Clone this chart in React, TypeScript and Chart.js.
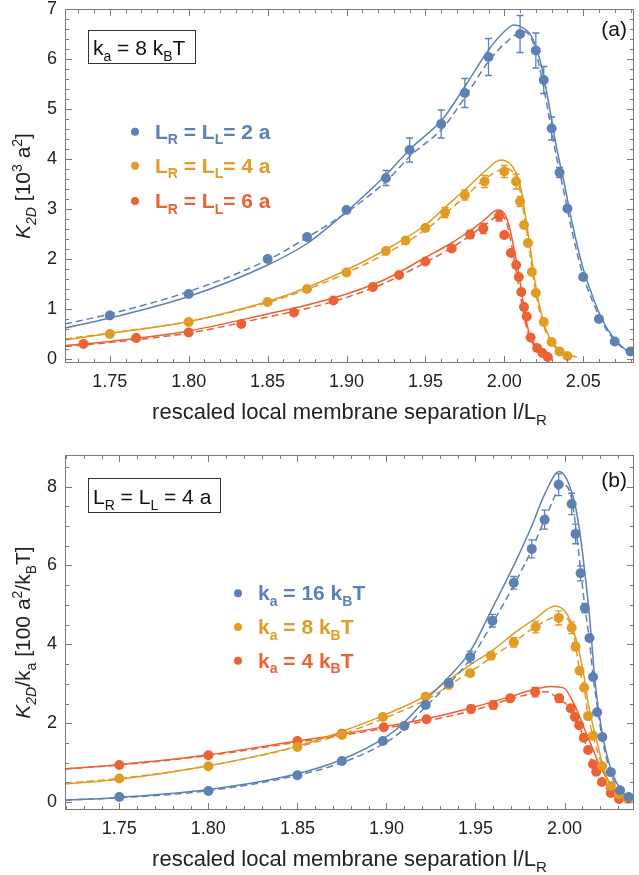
import React, { useEffect, useRef } from 'react';
import { Chart, registerables } from 'chart.js';
Chart.register(...registerables);

const BLUE = '#5E81B5';
const ORANGE = '#E19C24';
const RED = '#EB6235';

// ---------------- Panel (a): k_a = 8 kBT ----------------
const aXTicks = [1.75, 1.8, 1.85, 1.9, 1.95, 2.0, 2.05];
const aYTicks = [0, 1, 2, 3, 4, 5, 6, 7];
const aLegendValues = ['2', '4', '6'];

const aBlueX = [1.75, 1.8, 1.85, 1.875, 1.9, 1.925, 1.94, 1.96, 1.975, 1.99, 2.01, 2.02, 2.025, 2.03, 2.035, 2.04, 2.05, 2.06, 2.07, 2.08];
const aBlueY = [0.87, 1.3, 2.0, 2.44, 2.98, 3.62, 4.18, 4.7, 5.32, 6.04, 6.5, 6.17, 5.58, 4.61, 3.73, 3.01, 1.64, 0.8, 0.35, 0.15];
const aBlueErr = [0, 0, 0, 0, 0.05, 0.15, 0.24, 0.28, 0.29, 0.37, 0.37, 0.35, 0.27, 0.23, 0.1, 0, 0, 0, 0, 0];

const aOrangeX = [1.75, 1.8, 1.85, 1.875, 1.9, 1.925, 1.9375, 1.95, 1.9625, 1.975, 1.9875, 2.0, 2.0075, 2.01, 2.0125, 2.015, 2.0175, 2.02, 2.025, 2.03, 2.035, 2.04];
const aOrangeY = [0.5, 0.74, 1.14, 1.4, 1.73, 2.16, 2.37, 2.62, 2.93, 3.28, 3.55, 3.75, 3.55, 3.15, 2.68, 2.32, 1.74, 1.32, 0.74, 0.34, 0.15, 0.06];
const aOrangeErr = [0, 0, 0, 0, 0, 0, 0, 0.06, 0.1, 0.1, 0.12, 0.12, 0.15, 0.1, 0, 0, 0, 0, 0, 0, 0, 0];

const aRedX = [1.7333, 1.7667, 1.8, 1.8333, 1.8667, 1.8917, 1.9167, 1.9333, 1.95, 1.9667, 1.9783, 1.9867, 1.9967, 2.0, 2.0042, 2.0075, 2.0092, 2.0108, 2.0125, 2.0142, 2.0167, 2.0208, 2.0242, 2.0275];
const aRedY = [0.3, 0.42, 0.53, 0.7, 0.93, 1.17, 1.44, 1.68, 1.95, 2.21, 2.49, 2.61, 2.86, 2.48, 2.12, 1.88, 1.64, 1.34, 1.04, 0.85, 0.43, 0.22, 0.12, 0.04];
const aRedErr = [0, 0, 0, 0, 0, 0, 0, 0, 0, 0, 0.08, 0.1, 0.1, 0, 0, 0, 0, 0, 0, 0, 0, 0, 0, 0];

const aBlueFitX = [1.7216, 1.75, 1.8, 1.85, 1.875, 1.9, 1.925, 1.941, 1.961, 1.976, 1.99, 2.0, 2.0063, 2.012, 2.0173, 2.0226, 2.0278, 2.033, 2.0384, 2.0426, 2.0496, 2.056, 2.0622, 2.0686, 2.077, 2.0822];
const aBlueFitY = [0.62, 0.82, 1.25, 1.88, 2.31, 2.95, 3.68, 4.22, 4.8, 5.5, 6.18, 6.55, 6.68, 6.62, 6.45, 5.98, 5.18, 4.25, 3.45, 2.78, 1.85, 1.25, 0.78, 0.45, 0.18, 0.1];
const aBlueDashX = [1.7216, 1.75, 1.8, 1.85, 1.875, 1.9, 1.925, 1.941, 1.961, 1.976, 1.99, 2.0, 2.0124, 2.018, 2.0226, 2.0278, 2.033, 2.0384, 2.0426, 2.0496, 2.056, 2.0622, 2.0686, 2.077, 2.0822];
const aBlueDashY = [0.7, 0.9, 1.35, 1.98, 2.43, 2.93, 3.55, 4.08, 4.62, 5.28, 5.95, 6.3, 6.55, 6.35, 5.8, 4.95, 4.05, 3.25, 2.6, 1.7, 1.15, 0.72, 0.42, 0.17, 0.1];

const aOrangeFitX = [1.7216, 1.75, 1.8, 1.85, 1.875, 1.9, 1.925, 1.95, 1.963, 1.976, 1.9886, 1.9976, 2.0044, 2.0076, 2.0108, 2.0129, 2.0161, 2.0193, 2.0224, 2.0266, 2.0309, 2.0372, 2.0414, 2.046];
const aOrangeFitY = [0.38, 0.51, 0.75, 1.15, 1.43, 1.78, 2.19, 2.68, 3.05, 3.41, 3.78, 3.98, 3.88, 3.71, 3.38, 2.96, 2.31, 1.58, 1.05, 0.58, 0.31, 0.15, 0.08, 0.04];
const aOrangeDashX = [1.7216, 1.75, 1.8, 1.85, 1.875, 1.9, 1.925, 1.95, 1.963, 1.976, 1.9886, 2.0016, 2.0076, 2.0108, 2.0129, 2.0161, 2.0193, 2.0224, 2.0266, 2.0309, 2.0372, 2.0414];
const aOrangeDashY = [0.4, 0.52, 0.75, 1.13, 1.39, 1.72, 2.11, 2.58, 2.92, 3.27, 3.62, 3.81, 3.62, 3.25, 2.8, 2.15, 1.45, 0.95, 0.52, 0.28, 0.13, 0.07];

const aRedFitX = [1.7216, 1.75, 1.8, 1.85, 1.875, 1.9, 1.925, 1.95, 1.967, 1.978, 1.987, 1.9958, 2.0, 2.0032, 2.0063, 2.0095, 2.0127, 2.0158, 2.0201, 2.0264, 2.0306];
const aRedFitY = [0.27, 0.35, 0.56, 0.9, 1.08, 1.3, 1.6, 2.03, 2.33, 2.56, 2.77, 2.98, 2.91, 2.65, 2.18, 1.65, 0.98, 0.51, 0.25, 0.08, 0.03];
const aRedDashX = [1.7216, 1.75, 1.8, 1.85, 1.875, 1.9, 1.925, 1.95, 1.967, 1.978, 1.987, 1.998, 2.0015, 2.0045, 2.0078, 2.011, 2.0142, 2.0185, 2.025, 2.03];
const aRedDashY = [0.25, 0.33, 0.52, 0.84, 1.01, 1.23, 1.53, 1.93, 2.23, 2.46, 2.66, 2.88, 2.72, 2.3, 1.72, 1.12, 0.62, 0.28, 0.09, 0.03];

// ---------------- Panel (b): L_R = L_L = 4 a ----------------
const bXTicks = [1.75, 1.8, 1.85, 1.9, 1.95, 2.0];
const bYTicks = [0, 2, 4, 6, 8];
const bLegendValues = ['16', '8', '4'];

const bBlueX = [1.75, 1.8, 1.85, 1.875, 1.898, 1.91, 1.922, 1.935, 1.947, 1.9595, 1.9715, 1.9816, 1.9888, 1.9967, 2.004, 2.0062, 2.009, 2.0114, 2.014, 2.016, 2.0183, 2.0212, 2.026, 2.0312, 2.036];
const bBlueY = [0.13, 0.28, 0.68, 1.04, 1.55, 1.93, 2.46, 3.02, 3.68, 4.6, 5.56, 6.42, 7.16, 8.05, 7.56, 6.8, 5.8, 4.92, 4.16, 3.17, 2.28, 1.65, 0.76, 0.3, 0.13];
const bBlueErr = [0, 0, 0, 0, 0, 0, 0.05, 0.1, 0.15, 0.16, 0.16, 0.23, 0.24, 0.28, 0.27, 0.25, 0.19, 0.12, 0.08, 0, 0, 0, 0, 0, 0];

const bOrangeX = [1.75, 1.8, 1.85, 1.875, 1.898, 1.922, 1.935, 1.947, 1.9587, 1.9715, 1.9838, 1.9967, 2.004, 2.0062, 2.0084, 2.011, 2.0132, 2.016, 2.0211, 2.026, 2.0306, 2.0355];
const bOrangeY = [0.6, 0.91, 1.4, 1.7, 2.16, 2.67, 2.97, 3.27, 3.71, 4.05, 4.44, 4.67, 4.42, 3.94, 3.33, 2.9, 2.18, 1.68, 0.91, 0.41, 0.2, 0.08];
const bOrangeErr = [0, 0, 0, 0, 0, 0, 0, 0.08, 0.1, 0.12, 0.15, 0.18, 0.15, 0.1, 0, 0, 0, 0, 0, 0, 0, 0];

const bRedX = [1.75, 1.8, 1.85, 1.875, 1.8985, 1.9225, 1.9475, 1.96, 1.9695, 1.9835, 1.997, 2.0035, 2.0058, 2.0082, 2.0108, 2.0132, 2.016, 2.0178, 2.021, 2.026, 2.0306];
const bRedY = [0.94, 1.19, 1.55, 1.73, 1.9, 2.1, 2.36, 2.46, 2.63, 2.79, 2.63, 2.38, 2.16, 1.95, 1.63, 1.32, 0.96, 0.77, 0.51, 0.23, 0.08];
const bRedErr = [0, 0, 0, 0, 0, 0.05, 0.1, 0.1, 0.08, 0.12, 0.1, 0, 0, 0, 0, 0, 0, 0, 0, 0, 0];

const bBlueFitX = [1.7195, 1.75, 1.8, 1.85, 1.875, 1.9, 1.91, 1.922, 1.935, 1.947, 1.9593, 1.9715, 1.9816, 1.9888, 1.997, 2.0048, 2.0084, 2.0112, 2.0135, 2.0152, 2.0169, 2.0194, 2.0219, 2.0268, 2.0318, 2.0365, 2.039];
const bBlueFitY = [0.05, 0.12, 0.32, 0.72, 1.08, 1.66, 2.02, 2.59, 3.17, 3.82, 4.9, 6.0, 7.0, 7.8, 8.38, 7.74, 6.9, 5.89, 4.95, 4.1, 3.15, 2.25, 1.57, 0.73, 0.3, 0.09, 0.05];
const bBlueDashX = [1.7195, 1.75, 1.8, 1.85, 1.875, 1.9, 1.91, 1.922, 1.935, 1.947, 1.9593, 1.9715, 1.9816, 1.9888, 1.9995, 2.004, 2.0062, 2.009, 2.0114, 2.014, 2.016, 2.019, 2.021, 2.0257, 2.031, 2.036, 2.039];
const bBlueDashY = [0.05, 0.11, 0.29, 0.68, 1.0, 1.52, 1.86, 2.42, 3.0, 3.62, 4.52, 5.5, 6.4, 7.15, 8.05, 7.7, 7.0, 5.9, 4.95, 4.1, 3.2, 2.25, 1.65, 0.76, 0.29, 0.1, 0.05];

const bOrangeFitX = [1.7195, 1.75, 1.8, 1.85, 1.875, 1.9, 1.925, 1.935, 1.947, 1.96, 1.9715, 1.9838, 1.9946, 2.002, 2.005, 2.0075, 2.0106, 2.014, 2.018, 2.0218, 2.0262, 2.0329, 2.039];
const bOrangeFitY = [0.46, 0.58, 0.92, 1.42, 1.79, 2.23, 2.77, 3.1, 3.48, 3.86, 4.28, 4.66, 4.97, 4.72, 4.35, 3.95, 3.27, 2.33, 1.57, 0.89, 0.38, 0.13, 0.03];
const bOrangeDashX = [1.7195, 1.75, 1.8, 1.85, 1.875, 1.9, 1.925, 1.935, 1.947, 1.96, 1.9715, 1.9838, 1.998, 2.004, 2.0062, 2.0084, 2.011, 2.0132, 2.016, 2.0211, 2.026, 2.0306, 2.0355, 2.039];
const bOrangeDashY = [0.48, 0.6, 0.92, 1.4, 1.72, 2.15, 2.66, 2.96, 3.3, 3.7, 4.05, 4.45, 4.72, 4.45, 3.98, 3.35, 2.9, 2.2, 1.68, 0.92, 0.41, 0.2, 0.07, 0.03];

const bRedFitX = [1.7195, 1.75, 1.8, 1.85, 1.875, 1.9, 1.925, 1.95, 1.97, 1.9816, 1.9922, 1.9997, 2.0033, 2.0061, 2.0107, 2.0154, 2.0201, 2.0257, 2.0312, 2.0368, 2.039];
const bRedFitY = [0.84, 0.95, 1.2, 1.55, 1.72, 1.92, 2.14, 2.42, 2.68, 2.84, 2.93, 2.89, 2.67, 2.42, 1.91, 1.4, 0.9, 0.47, 0.22, 0.07, 0.05];
const bRedDashX = [1.7195, 1.75, 1.8, 1.85, 1.875, 1.9, 1.925, 1.95, 1.97, 1.984, 1.99, 1.9965, 2.0035, 2.0058, 2.0082, 2.0108, 2.0132, 2.016, 2.0212, 2.026, 2.0306, 2.0368, 2.039];
const bRedDashY = [0.84, 0.94, 1.18, 1.52, 1.69, 1.88, 2.08, 2.34, 2.62, 2.77, 2.8, 2.62, 2.36, 2.14, 1.93, 1.6, 1.3, 0.94, 0.49, 0.22, 0.08, 0.03, 0.02];

// ---------------- helpers ----------------
type Seg = { t: string; s?: 'sub' | 'sup'; i?: boolean };
const FAMILY = '"Liberation Sans", Arial, sans-serif';
const NARROW = '"Liberation Sans Narrow", "Liberation Sans", Arial, sans-serif';

function drawRich(ctx: CanvasRenderingContext2D, segs: Seg[], x: number, y: number, size: number, family: string, weight: string, color: string, align: 'left' | 'center' | 'right') {
  const fontFor = (s: Seg) => `${s.i ? 'italic ' : ''}${weight} ${s.s ? Math.round(size * 0.66) : size}px ${family}`;
  let w = 0;
  for (const s of segs) { ctx.font = fontFor(s); w += ctx.measureText(s.t).width; }
  let cx = align === 'left' ? x : align === 'center' ? x - w / 2 : x - w;
  ctx.fillStyle = color;
  ctx.textBaseline = 'alphabetic';
  ctx.textAlign = 'left';
  for (const s of segs) {
    ctx.font = fontFor(s);
    const dy = s.s === 'sub' ? size * 0.27 : s.s === 'sup' ? -size * 0.4 : 0;
    ctx.fillText(s.t, cx, y + dy);
    cx += ctx.measureText(s.t).width;
  }
}

const pts = (xs: number[], ys: number[]) => xs.map((x, i) => ({ x, y: ys[i] }));

function scatterDs(xs: number[], ys: number[], err: number[], color: string) {
  return { data: pts(xs, ys), showLine: false, pointRadius: 5, pointHoverRadius: 5, pointBorderWidth: 0, pointBackgroundColor: color, backgroundColor: color, borderColor: color, errors: err };
}
function lineDs(xs: number[], ys: number[], color: string, dashed: boolean) {
  return { data: pts(xs, ys), showLine: true, pointRadius: 0, pointHoverRadius: 0, borderWidth: 1.5, borderColor: color, backgroundColor: color, borderDash: dashed ? [7, 4] : [], cubicInterpolationMode: 'monotone', fill: false };
}

type PanelCfg = {
  height: number; top: number; bottom: number;
  xMin: number; xMax: number; yMin: number; yMax: number;
  xTicks: number[]; yTicks: number[]; yMinor: number; yMajor: number;
  datasets: any[];
  yTitle: Seg[];
  legend: { segs: Seg[]; color: string }[]; legendX: number; legendY: number[];
  box: { x: number; y: number; w: number; h: number; segs: Seg[]; tx: number; ty: number };
  tag: string; tagY: number;
};

const xTitle: Seg[] = [{ t: 'rescaled local membrane separation l/L' }, { t: 'R', s: 'sub' }];

function makeOverlay(cfg: PanelCfg) {
  return {
    id: 'overlay',
    afterDatasetsDraw(chart: any) {
      const ctx = chart.ctx as CanvasRenderingContext2D;
      const xs = chart.scales.x, ys = chart.scales.y;
      chart.data.datasets.forEach((ds: any) => {
        if (!ds.errors) return;
        ctx.save();
        ctx.strokeStyle = ds.borderColor;
        ctx.lineWidth = 1.3;
        ds.data.forEach((p: any, j: number) => {
          const e = ds.errors[j];
          if (!e) return;
          const px = xs.getPixelForValue(p.x);
          const y1 = ys.getPixelForValue(p.y + e), y2 = ys.getPixelForValue(p.y - e);
          ctx.beginPath();
          ctx.moveTo(px, y1); ctx.lineTo(px, y2);
          ctx.moveTo(px - 3.5, y1); ctx.lineTo(px + 3.5, y1);
          ctx.moveTo(px - 3.5, y2); ctx.lineTo(px + 3.5, y2);
          ctx.stroke();
        });
        ctx.restore();
      });
    },
    afterDraw(chart: any) {
      const ctx = chart.ctx as CanvasRenderingContext2D;
      const xs = chart.scales.x, ys = chart.scales.y;
      const { left, right, top, bottom } = chart.chartArea;
      ctx.save();
      ctx.strokeStyle = '#7a7a7a';
      ctx.lineWidth = 1;
      ctx.strokeRect(left + 0.5, top + 0.5, right - left - 1, bottom - top - 1);
      ctx.beginPath();
      for (let k = Math.ceil(cfg.xMin / 0.01 - 1e-6); k <= Math.floor(cfg.xMax / 0.01 + 1e-6); k++) {
        const v = k * 0.01;
        const len = k % 5 === 0 ? 7 : 4;
        const px = Math.round(xs.getPixelForValue(v)) + 0.5;
        ctx.moveTo(px, bottom); ctx.lineTo(px, bottom - len);
        ctx.moveTo(px, top); ctx.lineTo(px, top + len);
      }
      const nMaj = Math.round(cfg.yMajor / cfg.yMinor);
      for (let k = Math.ceil(cfg.yMin / cfg.yMinor - 1e-6); k <= Math.floor(cfg.yMax / cfg.yMinor + 1e-6); k++) {
        const v = k * cfg.yMinor;
        const len = k % nMaj === 0 ? 7 : 4;
        const py = Math.round(ys.getPixelForValue(v)) + 0.5;
        ctx.moveTo(left, py); ctx.lineTo(left + len, py);
        ctx.moveTo(right, py); ctx.lineTo(right - len, py);
      }
      ctx.stroke();
      ctx.restore();

      ctx.save();
      drawRich(ctx, xTitle, (left + right) / 2, bottom + 56, 22, FAMILY, 'normal', '#222', 'center');
      ctx.translate(30, (top + bottom) / 2);
      ctx.rotate(-Math.PI / 2);
      drawRich(ctx, cfg.yTitle, 0, 0, 21, FAMILY, 'normal', '#222', 'center');
      ctx.restore();

      ctx.save();
      cfg.legend.forEach((it, i) => {
        const cy = cfg.legendY[i];
        ctx.fillStyle = it.color;
        ctx.beginPath();
        ctx.arc(cfg.legendX, cy, 4, 0, Math.PI * 2);
        ctx.fill();
        drawRich(ctx, it.segs, cfg.legendX + 20, cy + 7, 21, NARROW, 'bold', it.color, 'left');
      });
      ctx.restore();

      ctx.save();
      const b = cfg.box;
      ctx.fillStyle = '#fff';
      ctx.fillRect(b.x, b.y, b.w, b.h);
      ctx.strokeStyle = '#333';
      ctx.lineWidth = 1;
      ctx.strokeRect(b.x + 0.5, b.y + 0.5, b.w, b.h);
      drawRich(ctx, b.segs, b.tx, b.ty, 21, FAMILY, 'normal', '#111', 'left');
      drawRich(ctx, [{ t: cfg.tag }], right - 7, cfg.tagY, 21, FAMILY, 'normal', '#111', 'right');
      ctx.restore();
    },
  };
}

function buildConfig(cfg: PanelCfg): any {
  const tickFont = { family: FAMILY, size: 18 };
  return {
    type: 'scatter',
    data: { datasets: cfg.datasets },
    options: {
      animation: false,
      responsive: false,
      maintainAspectRatio: false,
      devicePixelRatio: 1,
      layout: { padding: { top: cfg.top, right: 3, left: 0, bottom: 0 } },
      plugins: { legend: { display: false }, tooltip: { enabled: false } },
      events: [],
      scales: {
        x: {
          type: 'linear', min: cfg.xMin, max: cfg.xMax,
          grid: { display: false, drawTicks: false }, border: { display: false },
          ticks: { font: tickFont, color: '#222', padding: 8, autoSkip: false, maxRotation: 0, minRotation: 0, callback: (v: any) => Number(v).toFixed(2) },
          afterBuildTicks: (s: any) => { s.ticks = cfg.xTicks.map((v) => ({ value: v })); },
          afterFit: (s: any) => { s.height = cfg.height - cfg.bottom; s.paddingLeft = 0; s.paddingRight = 0; },
        },
        y: {
          type: 'linear', min: cfg.yMin, max: cfg.yMax,
          grid: { display: false, drawTicks: false }, border: { display: false },
          ticks: { font: tickFont, color: '#222', padding: 8, autoSkip: false, callback: (v: any) => String(Math.round(Number(v))) },
          afterBuildTicks: (s: any) => { s.ticks = cfg.yTicks.map((v) => ({ value: v })); },
          afterFit: (s: any) => { s.width = 65; s.paddingTop = 0; s.paddingBottom = 0; },
        },
      },
    },
    plugins: [makeOverlay(cfg)],
  };
}

const panelA: PanelCfg = {
  height: 425, top: 9, bottom: 363,
  xMin: 1.7216, xMax: 2.0822, yMin: -0.08, yMax: 7.0,
  xTicks: aXTicks, yTicks: aYTicks, yMinor: 0.2, yMajor: 1,
  datasets: [
    scatterDs(aBlueX, aBlueY, aBlueErr, BLUE),
    scatterDs(aOrangeX, aOrangeY, aOrangeErr, ORANGE),
    scatterDs(aRedX, aRedY, aRedErr, RED),
    lineDs(aBlueFitX, aBlueFitY, BLUE, false),
    lineDs(aBlueDashX, aBlueDashY, BLUE, true),
    lineDs(aOrangeFitX, aOrangeFitY, ORANGE, false),
    lineDs(aOrangeDashX, aOrangeDashY, ORANGE, true),
    lineDs(aRedFitX, aRedFitY, RED, false),
    lineDs(aRedDashX, aRedDashY, RED, true),
  ],
  yTitle: [{ t: 'K', i: true }, { t: '2D', s: 'sub', i: true }, { t: ' [10' }, { t: '3', s: 'sup' }, { t: ' a' }, { t: '2', s: 'sup' }, { t: ']' }],
  legend: aLegendValues.map((v, i) => ({
    segs: [{ t: 'L' }, { t: 'R', s: 'sub' as const }, { t: ' = L' }, { t: 'L', s: 'sub' as const }, { t: '= ' + v + ' a' }],
    color: [BLUE, ORANGE, RED][i],
  })),
  legendX: 135, legendY: [131.7, 165.7, 201],
  box: { x: 88, y: 30, w: 107, h: 33, segs: [{ t: 'k' }, { t: 'a', s: 'sub' }, { t: ' = 8 k' }, { t: 'B', s: 'sub' }, { t: 'T' }], tx: 93, ty: 55 },
  tag: '(a)', tagY: 36,
};

const panelB: PanelCfg = {
  height: 450, top: 30, bottom: 385,
  xMin: 1.7195, xMax: 2.039, yMin: -0.2, yMax: 8.8,
  xTicks: bXTicks, yTicks: bYTicks, yMinor: 0.5, yMajor: 2,
  datasets: [
    scatterDs(bBlueX, bBlueY, bBlueErr, BLUE),
    scatterDs(bOrangeX, bOrangeY, bOrangeErr, ORANGE),
    scatterDs(bRedX, bRedY, bRedErr, RED),
    lineDs(bBlueFitX, bBlueFitY, BLUE, false),
    lineDs(bBlueDashX, bBlueDashY, BLUE, true),
    lineDs(bOrangeFitX, bOrangeFitY, ORANGE, false),
    lineDs(bOrangeDashX, bOrangeDashY, ORANGE, true),
    lineDs(bRedFitX, bRedFitY, RED, false),
    lineDs(bRedDashX, bRedDashY, RED, true),
  ],
  yTitle: [{ t: 'K', i: true }, { t: '2D', s: 'sub', i: true }, { t: '/k' }, { t: 'a', s: 'sub' }, { t: ' [100 a' }, { t: '2', s: 'sup' }, { t: '/k' }, { t: 'B', s: 'sub' }, { t: 'T]' }],
  legend: bLegendValues.map((v, i) => ({
    segs: [{ t: 'k' }, { t: 'a', s: 'sub' as const }, { t: ' = ' + v + ' k' }, { t: 'B', s: 'sub' as const }, { t: 'T' }],
    color: [BLUE, ORANGE, RED][i],
  })),
  legendX: 238, legendY: [168.3, 202, 235.7],
  box: { x: 88, y: 53, w: 132, h: 34, segs: [{ t: 'L' }, { t: 'R', s: 'sub' }, { t: ' = L' }, { t: 'L', s: 'sub' }, { t: ' = 4 a' }], tx: 93, ty: 79 },
  tag: '(b)', tagY: 62,
};

function Panel({ cfg }: { cfg: PanelCfg }) {
  const ref = useRef<HTMLCanvasElement>(null);
  useEffect(() => {
    const chart = new Chart(ref.current as HTMLCanvasElement, buildConfig(cfg));
    return () => chart.destroy();
  }, [cfg]);
  return <canvas ref={ref} width={639} height={cfg.height} style={{ display: 'block', width: 639, height: cfg.height }} />;
}

export default function App() {
  return (
    <div style={{ position: 'absolute', left: 0, top: 0, width: 639, height: 875, background: '#fff' }}>
      <Panel cfg={panelA} />
      <Panel cfg={panelB} />
    </div>
  );
}
